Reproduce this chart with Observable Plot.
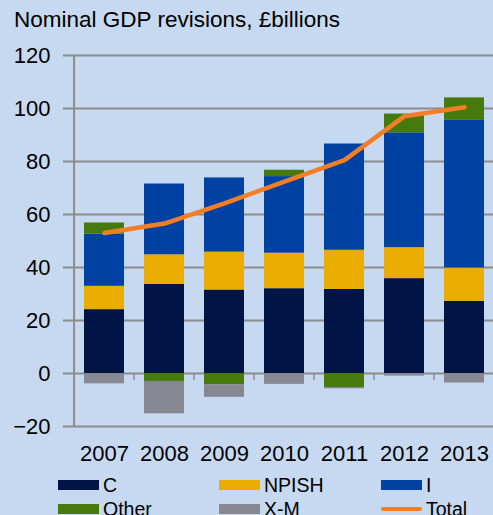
<!DOCTYPE html>
<html>
<head>
<meta charset="utf-8">
<script src="https://cdn.jsdelivr.net/npm/d3@7"></script>
<script src="https://cdn.jsdelivr.net/npm/@observablehq/plot@0.6"></script>
<style>
  html, body { margin: 0; padding: 0; }
  body { width: 493px; height: 515px; overflow: hidden; background: #c6d9f1; font-family: "Liberation Sans", Arial, sans-serif; color: #000; }
  #title { height: 35px; box-sizing: border-box; padding: 9px 0 0 14px; font-size: 22.5px; line-height: 22.5px; white-space: nowrap; }
  #legend { position: relative; height: 45px; }
  .item { position: absolute; display: flex; align-items: center; height: 24px; font-size: 19.5px; white-space: nowrap; }
  .sw { width: 41px; height: 10px; margin-right: 4px; }
  .ln { width: 41px; height: 4px; border-radius: 2px; margin-right: 4px; }
</style>
</head>
<body>
<div id="title">Nominal GDP revisions, £billions</div>
<div id="chart"></div>
<div id="legend"></div>
<script>
const years = ["2007", "2008", "2009", "2010", "2011", "2012", "2013"];
const seriesNames = ["C", "NPISH", "I", "Other", "X-M"];
const C     = [24.1, 33.6, 31.5, 32.0, 31.7, 35.8, 27.2];
const NPISH = [8.8, 11.2, 14.3, 13.4, 14.8, 11.7, 12.6];
const I     = [19.7, 26.7, 28.0, 28.9, 40.1, 43.3, 55.7];
const Other = [4.2, -3.0, -4.3, 2.4, -5.3, 7.1, 8.5];
const XM    = [-3.9, -12.2, -4.7, -4.1, -0.5, -1.0, -3.6];
const Total = [53.0, 56.6, 64.2, 72.4, 80.5, 97.1, 100.5];
const yTicks = [-20, 0, 20, 40, 60, 80, 100, 120];
const colors = ["#001545", "#ebac00", "#0042a3", "#477a0c", "#878891"];
const totalColor = "#f47e26";

const seriesValues = [C, NPISH, I, Other, XM];
const rows = [];
seriesNames.forEach((s, si) => years.forEach((y, yi) => rows.push({year: y, series: s, value: seriesValues[si][yi]})));
const totals = years.map((y, i) => ({year: y, value: Total[i]}));

const step = 426 / 7;
const half = step / 2;
const gridColor = "#8c8c8c";

const chart = Plot.plot({
  width: 493,
  height: 435,
  marginTop: 20,
  marginBottom: 44,
  marginLeft: 71,
  marginRight: -4,
  style: {background: "transparent", fontFamily: "'Liberation Sans', Arial, sans-serif", fontSize: "22px", color: "#000", overflow: "visible"},
  x: {domain: years, paddingInner: 0.33, paddingOuter: 0.165, label: null},
  y: {domain: [-20, 120], label: null},
  color: {domain: seriesNames, range: colors},
  marks: [
    Plot.ruleY(yTicks, {stroke: gridColor, strokeWidth: 2}),
    Plot.axisY({ticks: yTicks, tickSize: 8, tickPadding: 13, stroke: gridColor, strokeWidth: 2, strokeOpacity: 1, fill: "#000", fontSize: 22, label: null}),
    Plot.axisX({tickSize: 0, tickPadding: 19, fontSize: 22, fill: "#000", label: null}),
    Plot.ruleX(years.slice(0, 1), {x: d => d, y1: -20, y2: 120, dx: -half, stroke: gridColor, strokeWidth: 2}),
    Plot.barY(rows, {x: "year", y: "value", fill: "series"}),
    Plot.ruleX(years.slice(1), {x: d => d, y1: 0, y2: -2.6, dx: -half, stroke: gridColor, strokeWidth: 1.5}),
    Plot.lineY(totals, {x: "year", y: "value", stroke: totalColor, strokeWidth: 4.5, strokeLinecap: "round", strokeLinejoin: "round"})
  ]
});
document.getElementById("chart").appendChild(chart);

const legendItems = [
  {label: "C", color: colors[0], left: 58, top: 3, type: "sw"},
  {label: "NPISH", color: colors[1], left: 219, top: 3, type: "sw"},
  {label: "I", color: colors[2], left: 381, top: 3, type: "sw"},
  {label: "Other", color: colors[3], left: 58, top: 27, type: "sw"},
  {label: "X-M", color: colors[4], left: 219, top: 27, type: "sw"},
  {label: "Total", color: totalColor, left: 381, top: 27, type: "ln"}
];
const legend = document.getElementById("legend");
legendItems.forEach(it => {
  const d = document.createElement("div");
  d.className = "item";
  d.style.left = it.left + "px";
  d.style.top = it.top + "px";
  const s = document.createElement("span");
  s.className = it.type;
  s.style.background = it.color;
  d.appendChild(s);
  d.appendChild(document.createTextNode(it.label));
  legend.appendChild(d);
});
</script>
</body>
</html>
